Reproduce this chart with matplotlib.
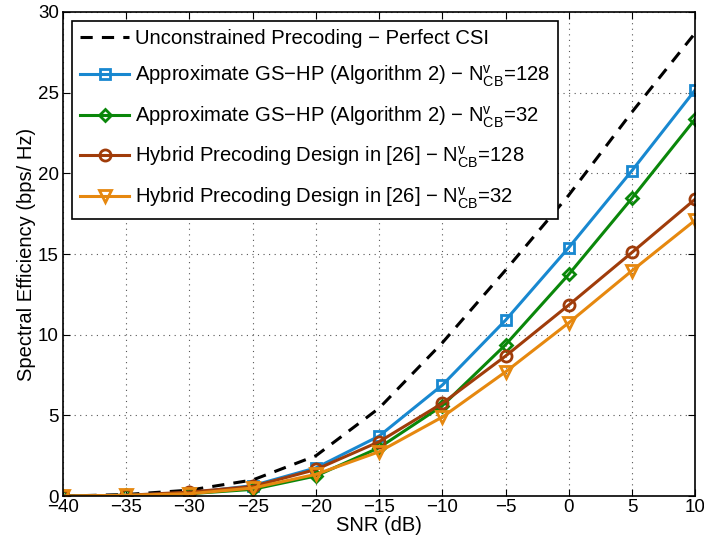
import matplotlib.pyplot as plt
import numpy as np

plt.rcParams['font.family'] = ['Liberation Sans', 'DejaVu Sans']
plt.rcParams['mathtext.fontset'] = 'custom'
plt.rcParams['mathtext.rm'] = 'Liberation Sans'
plt.rcParams['mathtext.it'] = 'Liberation Sans'

snr = [-40, -35, -30, -25, -20, -15, -10, -5, 0, 5, 10]

# spectral efficiency (bps/Hz) per scheme
se_perfect = [0.0, 0.1, 0.37, 1.0, 2.5, 5.45, 9.5, 14.0, 18.65, 23.8, 28.7]
se_gshp_128 = [0.0, 0.05, 0.2, 0.65, 1.75, 3.72, 6.88, 10.9, 15.4, 20.17, 25.17]
se_gshp_32 = [0.0, 0.05, 0.15, 0.42, 1.25, 3.0, 5.6, 9.38, 13.74, 18.46, 23.37]
se_ref_128 = [0.0, 0.05, 0.25, 0.6, 1.65, 3.37, 5.75, 8.68, 11.84, 15.1, 18.4]
se_ref_32 = [0.0, 0.05, 0.15, 0.5, 1.35, 2.75, 4.9, 7.7, 10.74, 13.97, 17.1]

labels = [
    'Unconstrained Precoding \u2212 Perfect CSI',
    r'Approximate GS$-$HP (Algorithm 2) $-$ N$^{\mathrm{v}}_{\mathrm{CB}}$=128',
    r'Approximate GS$-$HP (Algorithm 2) $-$ N$^{\mathrm{v}}_{\mathrm{CB}}$=32',
    r'Hybrid Precoding Design in [26] $-$ N$^{\mathrm{v}}_{\mathrm{CB}}$=128',
    r'Hybrid Precoding Design in [26] $-$ N$^{\mathrm{v}}_{\mathrm{CB}}$=32',
]

fig = plt.figure(figsize=(7.04, 5.44), dpi=100)
ax = fig.add_axes([0.0895, 0.088, 0.898, 0.89])

ax.plot(snr, se_perfect, '--', color='black', lw=2.2, dashes=(4, 3), label=labels[0])
ax.plot(snr, se_gshp_128, '-s', color='#1888d0', lw=2.2, ms=7, mfc='none', mew=2, label=labels[1])
ax.plot(snr, se_gshp_32, '-D', color='#0a870a', lw=2.2, ms=6.5, mfc='none', mew=2, label=labels[2])
ax.plot(snr, se_ref_128, '-o', color='#a03c0a', lw=2.2, ms=8, mfc='none', mew=2, label=labels[3])
ax.plot(snr, se_ref_32, '-v', color='#e6880f', lw=2.2, ms=9, mfc='none', mew=2, label=labels[4])

ax.set_xlim(-40, 10)
ax.set_ylim(0, 30)
ax.set_xticks(np.arange(-40, 11, 5))
ax.set_yticks(np.arange(0, 31, 5))
ax.set_xticklabels([str(t).replace('-', '\u2212') for t in range(-40, 11, 5)])
ax.tick_params(direction='in', top=True, right=True, labelsize=13.5, length=5)
ax.tick_params(axis='x', pad=2)
ax.tick_params(axis='y', pad=3)
ax.grid(True, linestyle=(0, (1, 4)), color='#555555', lw=0.8)
for s in ax.spines.values():
    s.set_linewidth(1.2)

ax.set_xlabel('SNR (dB)', fontsize=14.5, labelpad=0)
ax.set_ylabel('Spectral Efficiency (bps/ Hz)', fontsize=14.5, labelpad=1)

leg = ax.legend(loc='upper left', fontsize=14.6, fancybox=False, framealpha=1,
                edgecolor='black', handlelength=2.4, borderaxespad=0.45,
                labelspacing=0.75, borderpad=0.4, handletextpad=0.3)
leg.get_frame().set_linewidth(1.2)

fig.savefig('out.png', dpi=100)
